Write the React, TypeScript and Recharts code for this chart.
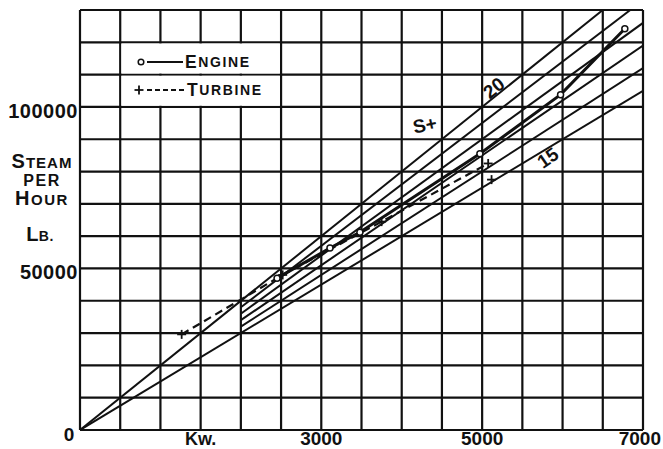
import React from 'react';
import {
  ComposedChart,
  Line,
  XAxis,
  YAxis,
  CartesianGrid,
  ReferenceArea,
  ReferenceDot,
  Scatter,
  Legend,
} from 'recharts';

// ---------- data ----------
const xMax = 7000;
const yMax = 130000;
const xTicks = [0, 500, 1000, 1500, 2000, 2500, 3000, 3500, 4000, 4500, 5000, 5500, 6000, 6500, 7000];
const yTicks = [0, 10000, 20000, 30000, 40000, 50000, 60000, 70000, 80000, 90000, 100000, 110000, 120000, 130000];
const xTickLabels: Record<number, string> = { 0: '0', 1500: 'Kw.', 3000: '3000', 5000: '5000', 7000: '7000' };
const yTickLabels: Record<number, string> = { 50000: '50000', 100000: '100000' };

// lb of steam per kW-hour rate lines
const ratesFromOrigin = [15, 20];
const ratesFromStart = [16, 17, 18, 19];
const rateStartKw = 2000;

const engineKw = [2450, 3108, 3480, 4972, 5975, 6774];
const engineLb = [47000, 56300, 61200, 85500, 103800, 124200];
const turbineKw = [1264, 2520, 3750, 5075];
const turbineLb = [29600, 48000, 64500, 82500];
const turbineLoneKw = [5117];
const turbineLoneLb = [77500];

const noteText = ['20', '15', 'S+'];
const noteKw = [5146, 5817, 4288];
const noteLb = [105850, 84200, 94400];
const noteAngle = [-39, -35, -12];

const legendKw = [500, 2500];
const legendRowsLb = [
  [100000, 110000],
  [110000, 120000],
];

// ---------- helpers ----------
const FONT = "'Liberation Sans', Arial, sans-serif";
const INK = '#111';

const engineData = engineKw.map((x, i) => ({ x, y: engineLb[i] }));
const turbineData = turbineKw.map((x, i) => ({ x, y: turbineLb[i] }));
const turbineLoneData = turbineLoneKw.map((x, i) => ({ x, y: turbineLoneLb[i] }));

const fanSeries = [
  ...ratesFromOrigin.map((r) => ({ r, start: 0 })),
  ...ratesFromStart.map((r) => ({ r, start: rateStartKw })),
].map(({ r, start }) => {
  const end = Math.min(xMax, yMax / r);
  return { r, data: [{ x: start, y: start * r }, { x: end, y: end * r }] };
});

const PlusDot = (p: any) => {
  const { cx, cy } = p;
  if (cx == null || cy == null) return <g key={p.key} />;
  return (
    <g key={p.key}>
      <line x1={cx - 4.5} x2={cx + 4.5} y1={cy} y2={cy} stroke={INK} strokeWidth={1.8} />
      <line x1={cx} x2={cx} y1={cy - 4.5} y2={cy + 4.5} stroke={INK} strokeWidth={1.8} />
    </g>
  );
};

const XTick = (p: any) => {
  const v = p.payload?.value;
  const label = xTickLabels[v];
  if (!label) return <g />;
  const isZero = v === 0;
  const isLast = v === xMax;
  return (
    <text
      x={isZero ? p.x - 11 : isLast ? p.x + 18 : p.x}
      y={isZero ? 441 : 445}
      textAnchor={isLast ? 'end' : 'middle'}
      fontFamily={FONT}
      fontWeight={700}
      fontSize={v === 1500 ? 18 : 19}
      fill={INK}
    >
      {label}
    </text>
  );
};

const YTick = (p: any) => {
  const v = p.payload?.value;
  const label = yTickLabels[v];
  if (!label) return <g />;
  return (
    <text
      x={78}
      y={p.y + 4}
      textAnchor="end"
      dominantBaseline="central"
      fontFamily={FONT}
      fontWeight={700}
      fontSize={20}
      letterSpacing={0.5}
      fill={INK}
    >
      {label}
    </text>
  );
};

const YTitle = () => (
  <g fontFamily={FONT} fontWeight={700} fill={INK} textAnchor="middle">
    <text x={42} y={168} letterSpacing={1}>
      <tspan fontSize={20}>S</tspan>
      <tspan fontSize={15}>TEAM</tspan>
    </text>
    <text x={42} y={186} fontSize={16} letterSpacing={1.5}>
      PER
    </text>
    <text x={42} y={205} letterSpacing={1.5}>
      <tspan fontSize={20}>H</tspan>
      <tspan fontSize={15}>OUR</tspan>
    </text>
    <text x={40} y={241} letterSpacing={0.5}>
      <tspan fontSize={20}>L</tspan>
      <tspan fontSize={14}>B.</tspan>
    </text>
  </g>
);

const NoteShape = (i: number) => (p: any) => {
  const { cx, cy } = p;
  if (cx == null) return <g />;
  return (
    <text
      x={cx}
      y={cy}
      textAnchor="middle"
      dominantBaseline="central"
      transform={`rotate(${noteAngle[i]} ${cx} ${cy})`}
      fontFamily={FONT}
      fontWeight={700}
      fontSize={19}
      fill={INK}
    >
      {noteText[i]}
    </text>
  );
};

const LegendBox = () => (
  <svg width={150} height={56} style={{ display: 'block', overflow: 'visible' }}>
    <g fontFamily={FONT} fontWeight={700} fill={INK}>
      <circle cx={13} cy={14} r={2.8} fill="#fff" stroke={INK} strokeWidth={1.5} />
      <line x1={19} x2={55} y1={14} y2={14} stroke={INK} strokeWidth={2.2} />
      <text x={57} y={14} dominantBaseline="central" letterSpacing={1.6}>
        <tspan fontSize={17.5}>E</tspan>
        <tspan fontSize={14}>NGINE</tspan>
      </text>
      <line x1={6.5} x2={15.5} y1={42} y2={42} stroke={INK} strokeWidth={1.8} />
      <line x1={11} x2={11} y1={37.5} y2={46.5} stroke={INK} strokeWidth={1.8} />
      <line x1={19} x2={56} y1={42} y2={42} stroke={INK} strokeWidth={1.8} strokeDasharray="5 3" />
      <text x={59} y={42} dominantBaseline="central" letterSpacing={1.6}>
        <tspan fontSize={17.5}>T</tspan>
        <tspan fontSize={14}>URBINE</tspan>
      </text>
    </g>
  </svg>
);

export default function App() {
  return (
    <div style={{ position: 'absolute', left: 0, top: 0, background: '#fff' }}>
      <ComposedChart
        width={663}
        height={449}
        margin={{ top: 10, right: 20, bottom: 0, left: 0 }}
        style={{ background: '#fff' }}
      >
        <CartesianGrid stroke={INK} strokeWidth={2.2} />
        <XAxis
          type="number"
          dataKey="x"
          domain={[0, xMax]}
          ticks={xTicks}
          interval={0}
          height={19}
          axisLine={false}
          tickLine={false}
          tick={<XTick />}
          allowDataOverflow
        />
        <YAxis
          type="number"
          domain={[0, yMax]}
          ticks={yTicks}
          interval={0}
          width={80}
          axisLine={false}
          tickLine={false}
          tick={<YTick />}
          label={{ content: () => <YTitle /> }}
          allowDataOverflow
        />
        {legendRowsLb.map(([y1, y2], i) => (
          <ReferenceArea
            key={`la${i}`}
            x1={legendKw[0] + 15}
            x2={legendKw[1] - 15}
            y1={y1 + 380}
            y2={y2 - 380}
            fill="#fff"
            fillOpacity={1}
            stroke="none"
          />
        ))}
        {fanSeries.map((s) => (
          <Line
            key={`r${s.r}`}
            data={s.data}
            dataKey="y"
            type="linear"
            stroke={INK}
            strokeWidth={2}
            dot={false}
            activeDot={false}
            isAnimationActive={false}
            legendType="none"
          />
        ))}
        <Line
          data={turbineData}
          dataKey="y"
          name="Turbine"
          type="linear"
          stroke={INK}
          strokeWidth={2.2}
          strokeDasharray="8 5"
          dot={(p: any) => <PlusDot key={`t${p.index}`} {...p} />}
          activeDot={false}
          isAnimationActive={false}
        />
        <Scatter
          data={turbineLoneData}
          dataKey="y"
          name="Turbine extra"
          shape={(p: any) => <PlusDot {...p} />}
          isAnimationActive={false}
          legendType="none"
        />
        <Line
          data={engineData}
          dataKey="y"
          name="Engine"
          type="linear"
          stroke={INK}
          strokeWidth={3}
          dot={{ r: 3, stroke: INK, strokeWidth: 1.5, fill: '#fff' }}
          activeDot={false}
          isAnimationActive={false}
        />
        {noteText.map((t, i) => (
          <ReferenceDot key={`n${i}`} x={noteKw[i]} y={noteLb[i]} r={0} shape={NoteShape(i)} />
        ))}
        <Legend
          verticalAlign="middle"
          align="center"
          layout="horizontal"
          content={<LegendBox />}
          wrapperStyle={{ left: 128, top: 48, width: 150, height: 56 }}
        />
      </ComposedChart>
    </div>
  );
}
